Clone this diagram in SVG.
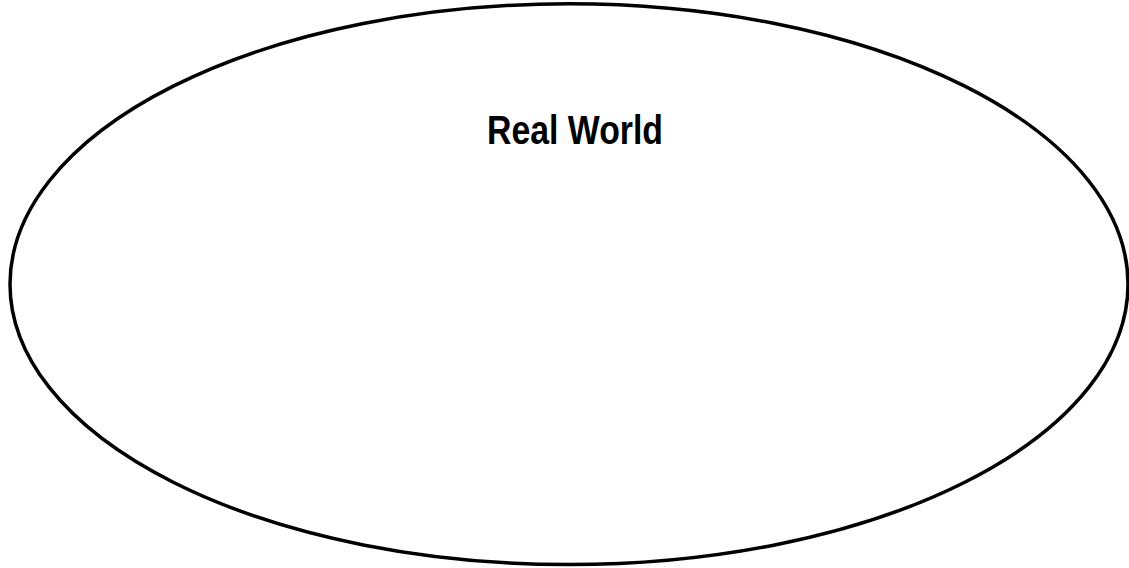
<svg xmlns="http://www.w3.org/2000/svg" width="1129" height="568" viewBox="0 0 1129 568">
<style>
.shape{fill:#ffffff;stroke:#000000;stroke-width:3.5}
.label{font-family:"Liberation Sans",Arial,sans-serif;font-weight:bold;font-size:40px;fill:#000000}
</style>
<rect width="1129" height="568" fill="#ffffff"/>
<g id="real-world">
<ellipse class="shape" cx="569" cy="284.2" rx="559" ry="280.4"/>
<text class="label" x="487" y="144" textLength="176" lengthAdjust="spacingAndGlyphs">Real World</text>
</g>
<g id="connectors"/>
</svg>
